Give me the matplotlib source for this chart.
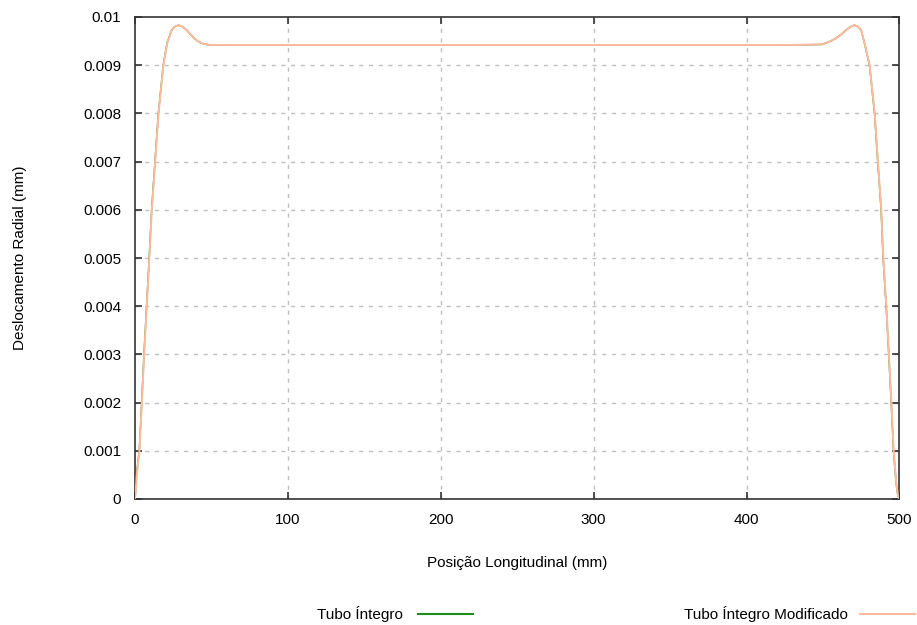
import matplotlib
matplotlib.use("Agg")
import matplotlib.pyplot as plt
from matplotlib.lines import Line2D

# Radial displacement along the tube (mm)
pos_integro = [0, 0.2, 1.0, 2.8, 4.4, 5.9, 7.6, 9.3, 10.9, 13.1, 15.3, 18.5,
               21.0, 24.0, 26.0, 28.5, 31.0, 33.8, 36.0, 39.0, 42.0, 45.0,
               49.0, 66.5, 250.0, 431.0, 449.0, 452.0, 455.0, 458.0, 460.8,
               463.0, 465.1, 468.0, 470.6, 473.0, 474.9, 477.1, 480.4, 483.7,
               485.8, 488.0, 489.3, 491.3, 493.0, 494.6, 496.1, 497.8, 498.9, 500]
desl_integro = [0, 0.00008, 0.0005, 0.001, 0.002, 0.003, 0.004, 0.005, 0.006,
                0.007, 0.008, 0.009, 0.00946, 0.00973, 0.00980, 0.00983,
                0.00980, 0.00973, 0.00965, 0.00955, 0.00948, 0.00944,
                0.00942, 0.00942, 0.00942, 0.00942, 0.00943, 0.00946,
                0.00950, 0.00955, 0.00961, 0.00967, 0.00973, 0.00980,
                0.00983, 0.00980, 0.00973, 0.00946, 0.009, 0.008, 0.007,
                0.006, 0.005, 0.004, 0.003, 0.002, 0.001, 0.00033, 0.00008, 0]

pos_modificado = [0, 0.3, 1.2, 2.9, 4.5, 6.0, 7.7, 9.4, 11.0, 13.2, 15.4,
                  18.6, 21.1, 24.1, 26.1, 28.6, 31.1, 33.9, 36.1, 39.1, 42.1,
                  45.1, 49.0, 66.5, 250.0, 431.0, 449.0, 452.0, 455.0, 458.0,
                  460.8, 463.0, 465.1, 468.0, 470.6, 473.0, 474.9, 477.1,
                  480.5, 483.8, 485.9, 488.1, 489.4, 491.4, 493.1, 494.7,
                  496.2, 497.9, 499.0, 500]
desl_modificado = desl_integro

x_ticks = [0, 100, 200, 300, 400, 500]
y_ticks = [0, 0.001, 0.002, 0.003, 0.004, 0.005, 0.006, 0.007, 0.008, 0.009, 0.01]
y_tick_labels = ["0", "0.001", "0.002", "0.003", "0.004", "0.005", "0.006",
                 "0.007", "0.008", "0.009", "0.01"]

plt.rcParams["font.family"] = ["Liberation Sans", "DejaVu Sans"]

GREEN = "#1e8c1e"
ORANGE = "#ffbb9e"

fig = plt.figure(figsize=(9.17, 6.25), dpi=100)
ax = fig.add_axes([0.1472, 0.2016, 0.9809 - 0.1472, 0.9728 - 0.2016])

ax.plot(pos_integro, desl_integro, color=GREEN, lw=1.1, zorder=3)
ax.plot(pos_modificado, desl_modificado, color=ORANGE, lw=1.4, zorder=4)

ax.set_xlim(0, 500)
ax.set_ylim(0, 0.01)
ax.set_xticks(x_ticks)
ax.set_xticklabels([str(t) for t in x_ticks])
ax.set_yticks(y_ticks)
ax.set_yticklabels(y_tick_labels)
ax.tick_params(direction="in", length=5, width=1.2, top=True, right=True,
               labelsize=11, pad=10, colors="#333333", labelcolor="black")

for xv in x_ticks[1:-1]:
    ax.axvline(xv, color="#c0c0c0", lw=1, ls=(0, (3, 4)), zorder=1)
for yv in y_ticks[1:-1]:
    ax.axhline(yv, color="#c0c0c0", lw=1, ls=(0, (3, 4)), zorder=1)

for s in ax.spines.values():
    s.set_color("#333333")
    s.set_linewidth(1.2)

fig.text(517 / 917, 1 - 563 / 625, "Posição Longitudinal (mm)", ha="center",
         va="center", fontsize=11)
fig.text(20 / 917, 1 - 258 / 625, "Deslocamento Radial (mm)", ha="center",
         va="center", rotation=90, fontsize=11)

# legend row under the plot
fig.text(403 / 917, 1 - 614 / 625, "Tubo Íntegro", ha="right", va="center",
         fontsize=11)
fig.add_artist(Line2D([418 / 917, 473 / 917], [1 - 614 / 625] * 2,
                      color=GREEN, lw=1.5, transform=fig.transFigure))
fig.text(848 / 917, 1 - 614 / 625, "Tubo Íntegro Modificado", ha="right",
         va="center", fontsize=11)
fig.add_artist(Line2D([860 / 917, 915 / 917], [1 - 614 / 625] * 2,
                      color=ORANGE, lw=1.5, transform=fig.transFigure))

fig.savefig("out.png", dpi=100, facecolor="white")
